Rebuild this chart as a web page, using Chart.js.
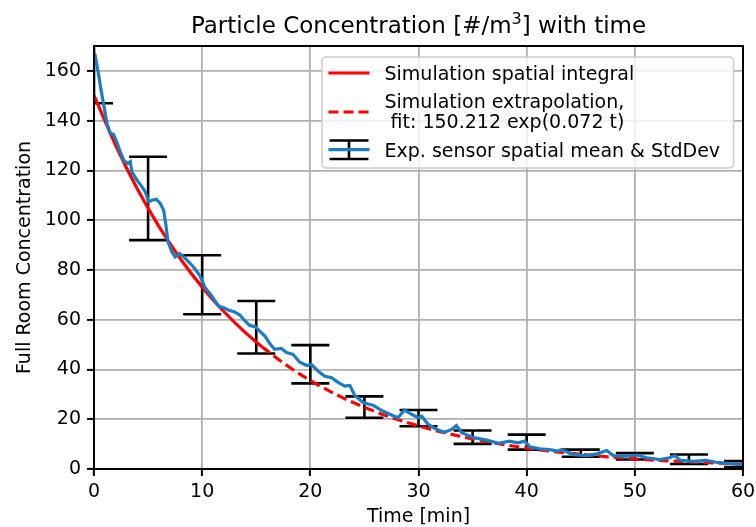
<!DOCTYPE html>
<html>
<head>
<meta charset="utf-8">
<script src="https://cdn.jsdelivr.net/npm/chart.js@4"></script>
<style>
  html, body { margin: 0; padding: 0; background: #fff; }
</style>
</head>
<body>
<canvas id="myChart" width="756" height="527"></canvas>
<script>
// measured sensor mean (blue line)
const blueT = [0, 0.1, 0.43, 0.68, 0.9, 1.2, 1.5, 1.8, 2.1, 2.43, 2.74, 3.14, 3.36, 3.5, 3.97, 4.44, 4.74, 5.05, 5.36, 5.76,
  6.13, 6.44, 6.65, 6.84, 7.2, 7.5, 7.9, 8.3, 8.75, 9.2, 9.8, 10.26, 10.88, 11.5, 11.95, 12.4, 13.0, 13.5, 13.96, 14.4,
  14.9, 15.3, 15.8, 16.3, 16.7, 17.3, 17.8, 18.4, 19.0, 19.66, 20.1, 20.7, 21.35, 21.97, 22.6, 23.2, 23.66, 24.1, 24.9, 25.8,
  26.7, 27.4, 28.1, 28.7, 29.4, 30.0, 30.3, 30.9, 31.7, 32.4, 33.06, 33.5, 34, 35.1, 36.3, 37.4, 38.4, 39.2, 39.8, 40.3,
  41.2, 42.1, 42.9, 43.2, 44.3, 45.5, 46.5, 47.4, 48, 49.2, 50.2, 51.1, 52.3, 53.2, 53.7, 54.2, 55.4, 56.6, 57.5, 58.8, 60]
const blueV = [167, 166.4, 158.4, 151.6, 146.3, 138.9, 134.9, 134.5, 131.5, 127.5, 124.1, 122.8, 123.5, 119.4, 116.1, 113.4, 111.4, 107.4, 108, 108.4,
  106.7, 104, 98, 91.3, 87.2, 85.2, 86.6, 85.2, 83.2, 81.2, 77.6, 72.9, 69.5, 65.5, 64.9, 63.9, 63.1, 61.8, 59.5, 57.7,
  57.2, 55.5, 53.4, 50.1, 48.1, 48.5, 46.8, 46.1, 43, 41.6, 42, 39.4, 37.3, 36.7, 34.7, 33.3, 33.6, 29.6, 26.6, 25.6,
  23.3, 21.9, 20.6, 23.7, 21.9, 20.6, 21.2, 17.9, 15.9, 14.8, 15.9, 17.5, 14.6, 12.6, 11.6, 10.3, 11.2, 10.5, 11.2, 8.9,
  8.1, 7.8, 7.2, 7.8, 5.8, 5.4, 6.1, 7.4, 5.4, 5.2, 5.6, 4.5, 3.8, 4.5, 5.4, 3.5, 3.1, 3.5, 2.7, 2.2, 1.8]

// simulation (solid) and extrapolation (dashed)
const simT = [0, 2, 4, 6, 8, 10, 12, 14, 15.5]
const simV = [150.2, 130.1, 112.6, 97.5, 84.4, 73.1, 63.3, 54.8, 49.2]
const extT = [15.5, 18, 20, 22.5, 25, 27.5, 30, 32.5, 35, 37.5, 40, 42.5, 45, 47.5, 50, 52.5, 55, 57.5, 60]
const extV = [49.2, 41.1, 35.6, 29.7, 24.8, 20.7, 17.3, 14.5, 12.1, 10.1, 8.4, 7.0, 5.9, 4.9, 4.1, 3.4, 2.9, 2.4, 2.0]

// std dev error bars
const errT = [0, 5, 10, 15, 20, 25, 30, 35, 40, 45, 50, 55, 60]
const errLow = [147, 92, 62.2, 46.4, 34.4, 20.6, 17.2, 10.1, 7.8, 4.9, 3.8, 2.0, 0.8]
const errHigh = [186, 125.5, 85.9, 67.5, 49.8, 29.2, 23.7, 15.5, 13.8, 7.8, 6.4, 5.8, 3.2]

const xTicks = [0, 10, 20, 30, 40, 50, 60]
const yTicks = [0, 20, 40, 60, 80, 100, 120, 140, 160]

const FONT = '"DejaVu Sans", sans-serif'
const BLUE = '#1a7dc2'
const LW = 3.2

function pts(ts, vs) {
  return ts.map((t, i) => ({ x: t, y: vs[i] }))
}

const extras = {
  id: 'extras',
  beforeDatasetsDraw(chart) {
    const { ctx, chartArea: a, scales: { x, y } } = chart
    ctx.save()
    ctx.beginPath()
    ctx.rect(a.left, a.top, a.width, a.height)
    ctx.clip()
    ctx.strokeStyle = '#000'
    ctx.lineWidth = 2.6
    errT.forEach((t, i) => {
      const px = x.getPixelForValue(t)
      const lo = y.getPixelForValue(errLow[i])
      const hi = y.getPixelForValue(errHigh[i])
      ctx.beginPath()
      ctx.moveTo(px, lo); ctx.lineTo(px, hi)
      ctx.moveTo(px - 19, lo); ctx.lineTo(px + 19, lo)
      ctx.moveTo(px - 19, hi); ctx.lineTo(px + 19, hi)
      ctx.stroke()
    })
    ctx.restore()
  },
  afterDatasetsDraw(chart) {
    const { ctx, chartArea: a } = chart
    ctx.save()
    // frame
    ctx.strokeStyle = '#000'
    ctx.lineWidth = 2
    ctx.strokeRect(a.left, a.top, a.width, a.height)

    // legend
    const L = a.right - 421, T = a.top + 11
    ctx.beginPath()
    ctx.roundRect(L, T, 411.5, 111, 4)
    ctx.fillStyle = 'rgba(255,255,255,0.8)'
    ctx.fill()
    ctx.strokeStyle = '#cccccc'
    ctx.lineWidth = 1.5
    ctx.stroke()

    const hx0 = L + 6.5, hx1 = L + 47.5, tx = L + 62.5
    ctx.lineWidth = LW
    ctx.strokeStyle = '#ff0000'
    ctx.beginPath(); ctx.moveTo(hx0, T + 16); ctx.lineTo(hx1, T + 16); ctx.stroke()
    ctx.setLineDash([10, 5])
    ctx.beginPath(); ctx.moveTo(hx0, T + 55); ctx.lineTo(hx1, T + 55); ctx.stroke()
    ctx.setLineDash([])
    const mx = (hx0 + hx1) / 2
    ctx.strokeStyle = '#000'
    ctx.lineWidth = 2.6
    ctx.beginPath()
    ctx.moveTo(mx, T + 83.5); ctx.lineTo(mx, T + 102)
    ctx.moveTo(hx0 + 1, T + 83.5); ctx.lineTo(hx1 - 1, T + 83.5)
    ctx.moveTo(hx0 + 1, T + 102); ctx.lineTo(hx1 - 1, T + 102)
    ctx.stroke()
    ctx.strokeStyle = BLUE
    ctx.lineWidth = LW
    ctx.beginPath(); ctx.moveTo(hx0, T + 92.7); ctx.lineTo(hx1, T + 92.7); ctx.stroke()

    ctx.fillStyle = '#000'
    ctx.font = '19px ' + FONT
    ctx.textBaseline = 'alphabetic'
    ctx.textAlign = 'left'
    ctx.fillText('Simulation spatial integral', tx, T + 23.4)
    ctx.fillText('Simulation extrapolation,', tx, T + 51)
    ctx.fillText(' fit: 150.212 exp(0.072 t)', tx, T + 71)
    ctx.fillText('Exp. sensor spatial mean & StdDev', tx, T + 100)
    ctx.restore()
  },
  afterDraw(chart) {
    const { ctx, chartArea: a } = chart
    const p1 = 'Particle Concentration [#/m', sup = '3', p2 = '] with time'
    ctx.save()
    ctx.fillStyle = '#000'
    ctx.textBaseline = 'alphabetic'
    ctx.textAlign = 'left'
    ctx.font = '23px ' + FONT
    const w1 = ctx.measureText(p1).width, w2 = ctx.measureText(p2).width
    ctx.font = '16px ' + FONT
    const ws = ctx.measureText(sup).width
    let sx = (a.left + a.right) / 2 - (w1 + ws + w2) / 2
    ctx.font = '23px ' + FONT
    ctx.fillText(p1, sx, 33)
    ctx.font = '16px ' + FONT
    ctx.fillText(sup, sx + w1, 24)
    ctx.font = '23px ' + FONT
    ctx.fillText(p2, sx + w1 + ws, 33)
    ctx.restore()
  },
}

const gridOpts = {
  color: '#b0b0b0',
  lineWidth: 1.8,
  tickColor: '#000',
  tickWidth: 2,
  tickLength: 7,
}

const myChart = new Chart(document.getElementById('myChart'), {
  type: 'line',
  data: {
    datasets: [
      {
        data: pts(blueT, blueV),
        borderColor: BLUE,
        borderWidth: LW,
        pointRadius: 0,
        tension: 0,
        order: 0,
      },
      {
        data: pts(simT, simV),
        borderColor: '#ff0000',
        borderWidth: LW,
        pointRadius: 0,
        cubicInterpolationMode: 'monotone',
        order: 1,
      },
      {
        data: pts(extT, extV),
        borderColor: '#ff0000',
        borderWidth: LW,
        borderDash: [10, 5],
        pointRadius: 0,
        cubicInterpolationMode: 'monotone',
        order: 2,
      },
    ],
  },
  options: {
    responsive: false,
    animation: false,
    devicePixelRatio: 1,
    layout: { padding: { top: 46, right: 13, left: 0, bottom: 0 } },
    plugins: {
      legend: { display: false },
      tooltip: { enabled: false },
    },
    scales: {
      x: {
        type: 'linear',
        min: 0,
        max: 60,
        grid: gridOpts,
        border: { display: false },
        afterBuildTicks: (s) => { s.ticks = xTicks.map((v) => ({ value: v })) },
        afterFit: (s) => { s.height = 58; s.paddingLeft = 0; s.paddingRight = 0 },
        ticks: { color: '#000', font: { family: FONT, size: 19 }, padding: 5, maxRotation: 0 },
        title: {
          display: true,
          text: 'Time [min]',
          color: '#000',
          font: { family: FONT, size: 19 },
          padding: { top: 0, bottom: -1 },
        },
      },
      y: {
        min: 0,
        max: 170,
        grid: gridOpts,
        border: { display: false },
        afterBuildTicks: (s) => { s.ticks = yTicks.map((v) => ({ value: v })) },
        afterFit: (s) => { s.width = 94; s.paddingTop = 0; s.paddingBottom = 0 },
        ticks: { color: '#000', font: { family: FONT, size: 19 }, padding: 6 },
        title: {
          display: true,
          text: 'Full Room Concentration',
          color: '#000',
          font: { family: FONT, size: 19 },
          padding: { top: 14, bottom: 0 },
        },
      },
    },
  },
  plugins: [extras],
})
</script>
</body>
</html>
